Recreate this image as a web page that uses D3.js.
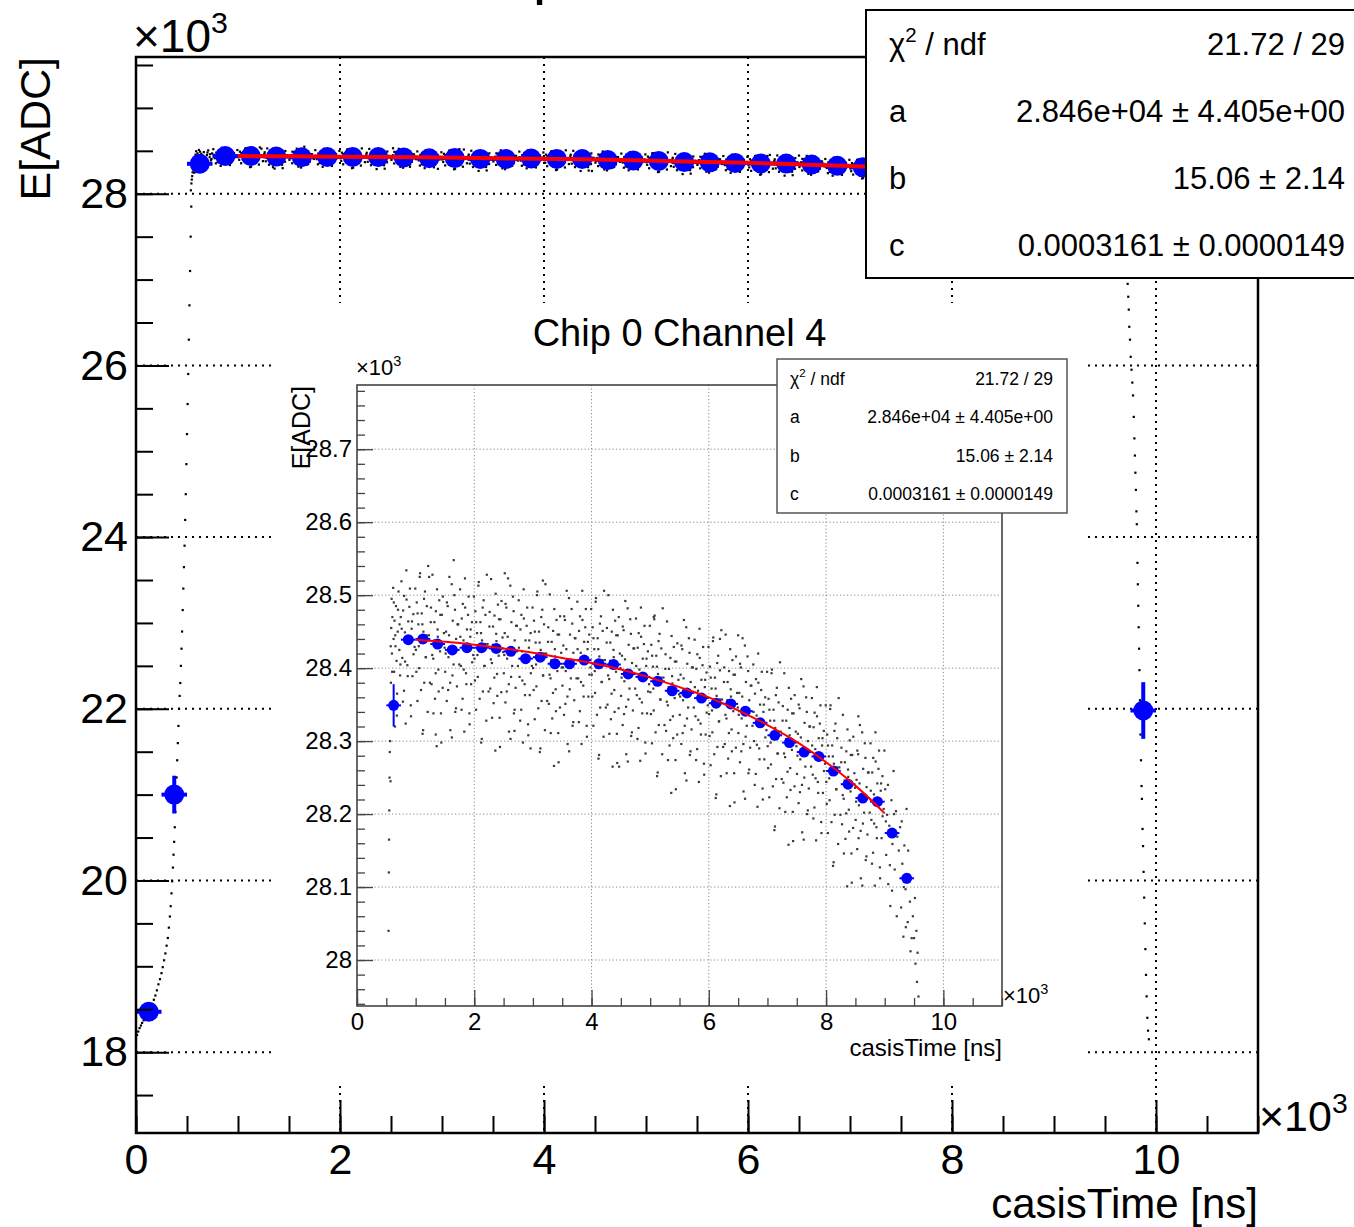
<!DOCTYPE html>
<html>
<head>
<meta charset="utf-8">
<script src="https://cdn.jsdelivr.net/npm/d3@7"></script>
<style>
  html, body { margin: 0; padding: 0; background: #fff; }
  svg { display: block; font-family: "Liberation Sans", Arial, Helvetica, sans-serif; }
</style>
</head>
<body>
<div id="chart"></div>
<script>
const width = 1354;
const height = 1227;

const title = "Chip 0 Channel 4";
const xTitle = "casisTime [ns]";
const yTitle = "E[ADC]";
const expLabel = "×10^3";

// axis ticks (ns / ADC)
const xDomain = [0, 11000];
const xMajor = [0, 2000, 4000, 6000, 8000, 10000];
const mainYMajor = [18000, 20000, 22000, 24000, 26000, 28000];
const insetYMajor = [28000, 28100, 28200, 28300, 28400, 28500, 28600, 28700];

// profile (blue): bin centre [ns], mean [ADC], error [ADC]
const binHalfWidth = 125;
const binCenters = [125, 375, 625, 875, 1125, 1375, 1625, 1875, 2125, 2375, 2625, 2875, 3125, 3375, 3625, 3875, 4125, 4375, 4625, 4875, 5125, 5375, 5625, 5875, 6125, 6375, 6625, 6875, 7125, 7375, 7625, 7875, 8125, 8375, 8625, 8875, 9125, 9375, 9875];
const binMeans = [18470, 21000, 28349, 28439, 28440, 28433, 28425, 28428, 28428, 28427, 28423, 28413, 28415, 28406, 28406, 28411, 28406, 28405, 28392, 28388, 28382, 28369, 28366, 28359, 28352, 28351, 28341, 28325, 28308, 28298, 28285, 28279, 28259, 28241, 28222, 28217, 28174, 28112, 21980];
const binErrors = [30, 220, 29, 6, 5, 5, 5, 5, 5, 5, 5, 5, 5, 5, 5, 5, 5, 5, 5, 5, 5, 5, 5, 5, 5, 5, 5, 5, 5, 6, 6, 6, 6, 6, 6, 6, 6, 7, 330];

// red fit line
const fitTime = [1000, 1500, 2000, 2500, 3000, 3500, 4000, 4500, 5000, 5500, 6000, 6500, 7000, 7500, 8000, 8500, 9000];
const fitE = [28439, 28436, 28432, 28427, 28421, 28414, 28407, 28398, 28387, 28374, 28360, 28342, 28322, 28299, 28271, 28239, 28201];

// stats box
const statLabels = ["χ^2 / ndf", "a", "b", "c"];
const statValues = ["21.72 / 29", "2.846e+04 ± 4.405e+00", "15.06 ± 2.14", "0.0003161 ± 0.0000149"];

// raw events [ns, ADC]
const riseDots = [
  [10,18200],[22,18240],[35,18280],[48,18310],[60,18340],[75,18370],[90,18400],[105,18430],[120,18460],[140,18500],
  [160,18560],[175,18610],[190,18660],[205,18720],[220,18790],[235,18850],[250,18920],[262,18990],[275,19070],[288,19150],
  [300,19240],[312,19330],[322,19450],[332,19580],[340,19700],[348,19850],[355,19990],[362,20150],[368,20300],[374,20450],
  [380,20620],[386,20800],[392,21000],[398,21200],[404,21400],[410,21600],[416,21800],[422,22000],[428,22150],[434,22300],
  [440,22500],[446,22700],[452,22900],[458,23150],[464,23400],[470,23650],[476,23900],[482,24200],[488,24500],[494,24850],
  [500,25200],[506,25550],[512,25900],[518,26300],[524,26700],[530,27100],[536,27500],[542,27850],
  [538,28040],[543,28120],[547,28165],[551,28205],[555,28250],[559,28285]
];

const bandDots = [
  [565,28300],[572,28245],[578,28380],[584,28455],[590,28495],[596,28420],[603,28470],[610,28350],[617,28510],[624,28440],[632,28395],
  [640,28465],[648,28320],[656,28430],[665,28485],[674,28410],[684,28365],[695,28450],[708,28505],[722,28425],[735,28390],[746,28470],
  [575,28430],[600,28395],[628,28490],[652,28445],[680,28335],[700,28480],[725,28460],[740,28405],
  [758,28519],[772,28414],[787,28479],[801,28369],[816,28449],[830,28324],[845,28494],[859,28404],[874,28464],[888,28434],[903,28509],[917,28349],[932,28454],[946,28389],[961,28474],[982,28429],
  [1004,28425],[1019,28490],[1031,28355],[1047,28460],[1060,28400],[1076,28530],[1089,28435],[1104,28475],[1118,28310],[1133,28450],[1147,28380],[1160,28505],[1176,28415],[1190,28485],[1205,28340],[1226,28445],
  [1258,28463],[1272,28378],[1287,28528],[1301,28413],[1316,28438],[1330,28358],[1345,28478],[1359,28293],[1374,28453],[1388,28398],[1403,28493],[1417,28423],[1432,28338],[1446,28473],[1461,28373],[1482,28448],
  [1504,28395],[1519,28450],[1531,28355],[1547,28485],[1560,28415],[1576,28525],[1589,28380],[1604,28430],[1618,28305],[1633,28465],[1647,28405],[1660,28500],[1676,28340],[1690,28440],[1705,28375],[1726,28460],
  [1758,28508],[1772,28403],[1787,28468],[1801,28358],[1816,28438],[1830,28313],[1845,28483],[1859,28393],[1874,28453],[1888,28423],[1903,28498],[1917,28338],[1932,28443],[1946,28378],[1961,28463],[1982,28418],
  [2004,28413],[2019,28478],[2031,28343],[2047,28448],[2060,28388],[2076,28518],[2089,28423],[2104,28463],[2118,28298],[2133,28438],[2147,28368],[2160,28493],[2176,28403],[2190,28473],[2205,28328],[2226,28433],
  [2258,28457],[2272,28372],[2287,28522],[2301,28407],[2316,28432],[2330,28352],[2345,28472],[2359,28287],[2374,28447],[2388,28392],[2403,28487],[2417,28417],[2432,28332],[2446,28467],[2461,28367],[2482,28442],
  [2504,28393],[2519,28448],[2531,28353],[2547,28483],[2560,28413],[2576,28523],[2589,28378],[2604,28428],[2618,28303],[2633,28463],[2647,28403],[2660,28498],[2676,28338],[2690,28438],[2705,28373],[2726,28458],
  [2758,28493],[2772,28388],[2787,28453],[2801,28343],[2816,28423],[2830,28298],[2845,28468],[2859,28378],[2874,28438],[2888,28408],[2903,28483],[2917,28323],[2932,28428],[2946,28363],[2961,28448],[2982,28403],
  [3004,28400],[3019,28465],[3031,28330],[3047,28435],[3060,28375],[3076,28505],[3089,28410],[3104,28450],[3118,28285],[3133,28425],[3147,28355],[3160,28480],[3176,28390],[3190,28460],[3205,28315],[3226,28420],
  [3258,28436],[3272,28351],[3287,28501],[3301,28386],[3316,28411],[3330,28331],[3345,28451],[3359,28266],[3374,28426],[3388,28371],[3403,28466],[3417,28396],[3432,28311],[3446,28446],[3461,28346],[3482,28421],
  [3504,28376],[3519,28431],[3531,28336],[3547,28466],[3560,28396],[3576,28506],[3589,28361],[3604,28411],[3618,28286],[3633,28446],[3647,28386],[3660,28481],[3676,28321],[3690,28421],[3705,28356],[3726,28441],
  [3758,28491],[3772,28386],[3787,28451],[3801,28341],[3816,28421],[3830,28296],[3845,28466],[3859,28376],[3874,28436],[3888,28406],[3903,28481],[3917,28321],[3932,28426],[3946,28361],[3961,28446],[3982,28401],
  [4004,28391],[4019,28456],[4031,28321],[4047,28426],[4060,28366],[4076,28496],[4089,28401],[4104,28441],[4118,28276],[4133,28416],[4147,28346],[4160,28471],[4176,28381],[4190,28451],[4205,28306],[4226,28411],
  [4258,28435],[4272,28350],[4287,28500],[4301,28385],[4316,28410],[4330,28330],[4345,28450],[4359,28265],[4374,28425],[4388,28370],[4403,28465],[4417,28395],[4432,28310],[4446,28445],[4461,28345],[4482,28420],
  [4504,28362],[4519,28417],[4531,28322],[4547,28452],[4560,28382],[4576,28492],[4589,28347],[4604,28397],[4618,28272],[4633,28432],[4647,28372],[4660,28467],[4676,28307],[4690,28407],[4705,28342],[4726,28427],
  [4758,28468],[4772,28363],[4787,28428],[4801,28318],[4816,28398],[4830,28273],[4845,28443],[4859,28353],[4874,28413],[4888,28383],[4903,28458],[4917,28298],[4932,28403],[4946,28338],[4961,28423],[4982,28378],
  [5004,28367],[5019,28432],[5031,28297],[5047,28402],[5060,28342],[5076,28472],[5089,28377],[5104,28417],[5118,28252],[5133,28392],[5147,28322],[5160,28447],[5176,28357],[5190,28427],[5205,28282],[5226,28387],
  [5258,28399],[5272,28314],[5287,28464],[5301,28349],[5316,28374],[5330,28294],[5345,28414],[5359,28229],[5374,28389],[5388,28334],[5403,28429],[5417,28359],[5432,28274],[5446,28409],[5461,28309],[5482,28384],
  [5504,28336],[5519,28391],[5531,28296],[5547,28426],[5560,28356],[5576,28466],[5589,28321],[5604,28371],[5618,28246],[5633,28406],[5647,28346],[5660,28441],[5676,28281],[5690,28381],[5705,28316],[5726,28401],
  [5758,28439],[5772,28334],[5787,28399],[5801,28289],[5816,28369],[5830,28244],[5845,28414],[5859,28324],[5874,28384],[5888,28354],[5903,28429],[5917,28269],[5932,28374],[5946,28309],[5961,28394],[5982,28349],
  [6004,28337],[6019,28402],[6031,28267],[6047,28372],[6060,28312],[6076,28442],[6089,28347],[6104,28387],[6118,28222],[6133,28362],[6147,28292],[6160,28417],[6176,28327],[6190,28397],[6205,28252],[6226,28357],
  [6258,28381],[6272,28296],[6287,28446],[6301,28331],[6316,28356],[6330,28276],[6345,28396],[6359,28211],[6374,28371],[6388,28316],[6403,28411],[6417,28341],[6432,28256],[6446,28391],[6461,28291],[6482,28366],
  [6504,28311],[6519,28366],[6531,28271],[6547,28401],[6560,28331],[6576,28441],[6589,28296],[6604,28346],[6618,28221],[6633,28381],[6647,28321],[6660,28416],[6676,28256],[6690,28356],[6705,28291],[6726,28376],
  [6758,28405],[6772,28300],[6787,28365],[6801,28255],[6816,28335],[6830,28210],[6845,28380],[6859,28290],[6874,28350],[6888,28320],[6903,28395],[6917,28235],[6932,28340],[6946,28275],[6961,28360],[6982,28315],
  [7004,28293],[7019,28358],[7031,28223],[7047,28328],[7060,28268],[7076,28398],[7089,28303],[7104,28343],[7118,28178],[7133,28318],[7147,28248],[7160,28373],[7176,28283],[7190,28353],[7205,28208],[7226,28313],
  [7258,28328],[7272,28243],[7287,28393],[7301,28278],[7316,28303],[7330,28223],[7345,28343],[7359,28158],[7374,28318],[7388,28263],[7403,28358],[7417,28288],[7432,28203],[7446,28338],[7461,28238],[7482,28313],
  [7504,28255],[7519,28310],[7531,28215],[7547,28345],[7560,28275],[7576,28385],[7589,28240],[7604,28290],[7618,28165],[7633,28325],[7647,28265],[7660,28360],[7676,28200],[7690,28300],[7705,28235],[7726,28320],
  [7758,28359],[7772,28254],[7787,28319],[7801,28209],[7816,28289],[7830,28164],[7845,28334],[7859,28244],[7874,28304],[7888,28274],[7903,28349],[7917,28189],[7932,28294],[7946,28229],[7961,28314],[7982,28269],
  [8004,28244],[8019,28309],[8031,28174],[8047,28279],[8060,28219],[8076,28349],[8089,28254],[8104,28294],[8118,28129],[8133,28269],[8147,28199],[8160,28324],[8176,28234],[8190,28304],[8205,28159],[8226,28264],
  [8258,28271],[8272,28186],[8287,28336],[8301,28221],[8316,28246],[8330,28166],[8345,28286],[8359,28101],[8374,28261],[8388,28206],[8403,28301],[8417,28231],[8432,28146],[8446,28281],[8461,28181],[8482,28256],
  [8504,28192],[8519,28247],[8531,28152],[8547,28282],[8560,28212],[8576,28322],[8589,28177],[8604,28227],[8618,28102],[8633,28262],[8647,28202],[8660,28297],[8676,28137],[8690,28237],[8705,28172],[8726,28257],
  [8758,28297],[8772,28192],[8787,28257],[8801,28147],[8816,28227],[8830,28102],[8845,28272],[8859,28182],[8874,28242],[8888,28212],[8903,28287],[8917,28127],[8932,28232],[8946,28167],[8961,28252],[8982,28207],
  [9008,28234],[9025,28144],[9041,28199],[9060,28104],[9078,28184],[9095,28074],[9115,28219],[9132,28159],[9150,28259],[9170,28124],[9192,28204],[9215,28169],
  [9262,28182],[9280,28072],[9300,28132],[9318,28032],[9335,28157],[9355,28097],[9372,28207],[9392,28052],[9415,28117],[9440,28012],
  [9020,28190],[9055,28240],[9088,28130],[9125,28095],[9160,28200],[9205,28060],[9240,28150],[9290,28190],[9325,28100],[9360,28045],[9400,28150],[9430,28080],[9460,28030],
  [1230,28525],[1650,28548],[2520,28530],[3170,28520],[5060,28470],[6190,28440],[6500,28445],[2960,28290],[4470,28265],[8550,28334],[1343,28309],[2686,28314]
];

// second pass over the cloud (denser core)
const coreDots = [
  [762,28454],[783,28354],[804,28499],[820,28409],[842,28534],[865,28389],[878,28434],[893,28484],[921,28334],[938,28464],[964,28419],[994,28509],
  [1012,28395],[1033,28475],[1054,28430],[1070,28525],[1092,28370],[1115,28460],[1128,28315],[1143,28495],[1171,28415],[1188,28445],[1214,28540],[1244,28380],
  [1262,28483],[1283,28418],[1304,28338],[1320,28463],[1342,28393],[1365,28508],[1378,28443],[1393,28368],[1421,28473],[1438,28298],[1464,28498],[1494,28428],
  [1512,28420],[1533,28490],[1554,28370],[1570,28445],[1592,28315],[1615,28515],[1628,28390],[1643,28430],[1671,28480],[1688,28345],[1714,28460],[1744,28405],
  [1762,28443],[1783,28343],[1804,28488],[1820,28398],[1842,28523],[1865,28378],[1878,28423],[1893,28473],[1921,28323],[1938,28453],[1964,28408],[1994,28498],
  [2012,28383],[2033,28463],[2054,28418],[2070,28513],[2092,28358],[2115,28448],[2128,28303],[2143,28483],[2171,28403],[2188,28433],[2214,28528],[2244,28368],
  [2262,28477],[2283,28412],[2304,28332],[2320,28457],[2342,28387],[2365,28502],[2378,28437],[2393,28362],[2421,28467],[2438,28292],[2464,28492],[2494,28422],
  [2512,28418],[2533,28488],[2554,28368],[2570,28443],[2592,28313],[2615,28513],[2628,28388],[2643,28428],[2671,28478],[2688,28343],[2714,28458],[2744,28403],
  [2762,28428],[2783,28328],[2804,28473],[2820,28383],[2842,28508],[2865,28363],[2878,28408],[2893,28458],[2921,28308],[2938,28438],[2964,28393],[2994,28483],
  [3012,28370],[3033,28450],[3054,28405],[3070,28500],[3092,28345],[3115,28435],[3128,28290],[3143,28470],[3171,28390],[3188,28420],[3214,28515],[3244,28355],
  [3262,28456],[3283,28391],[3304,28311],[3320,28436],[3342,28366],[3365,28481],[3378,28416],[3393,28341],[3421,28446],[3438,28271],[3464,28471],[3494,28401],
  [3512,28401],[3533,28471],[3554,28351],[3570,28426],[3592,28296],[3615,28496],[3628,28371],[3643,28411],[3671,28461],[3688,28326],[3714,28441],[3744,28386],
  [3762,28426],[3783,28326],[3804,28471],[3820,28381],[3842,28506],[3865,28361],[3878,28406],[3893,28456],[3921,28306],[3938,28436],[3964,28391],[3994,28481],
  [4012,28361],[4033,28441],[4054,28396],[4070,28491],[4092,28336],[4115,28426],[4128,28281],[4143,28461],[4171,28381],[4188,28411],[4214,28506],[4244,28346],
  [4262,28455],[4283,28390],[4304,28310],[4320,28435],[4342,28365],[4365,28480],[4378,28415],[4393,28340],[4421,28445],[4438,28270],[4464,28470],[4494,28400],
  [4512,28387],[4533,28457],[4554,28337],[4570,28412],[4592,28282],[4615,28482],[4628,28357],[4643,28397],[4671,28447],[4688,28312],[4714,28427],[4744,28372],
  [4762,28403],[4783,28303],[4804,28448],[4820,28358],[4842,28483],[4865,28338],[4878,28383],[4893,28433],[4921,28283],[4938,28413],[4964,28368],[4994,28458],
  [5012,28337],[5033,28417],[5054,28372],[5070,28467],[5092,28312],[5115,28402],[5128,28257],[5143,28437],[5171,28357],[5188,28387],[5214,28482],[5244,28322],
  [5262,28419],[5283,28354],[5304,28274],[5320,28399],[5342,28329],[5365,28444],[5378,28379],[5393,28304],[5421,28409],[5438,28234],[5464,28434],[5494,28364],
  [5512,28361],[5533,28431],[5554,28311],[5570,28386],[5592,28256],[5615,28456],[5628,28331],[5643,28371],[5671,28421],[5688,28286],[5714,28401],[5744,28346],
  [5762,28374],[5783,28274],[5804,28419],[5820,28329],[5842,28454],[5865,28309],[5878,28354],[5893,28404],[5921,28254],[5938,28384],[5964,28339],[5994,28429],
  [6012,28307],[6033,28387],[6054,28342],[6070,28437],[6092,28282],[6115,28372],[6128,28227],[6143,28407],[6171,28327],[6188,28357],[6214,28452],[6244,28292],
  [6262,28401],[6283,28336],[6304,28256],[6320,28381],[6342,28311],[6365,28426],[6378,28361],[6393,28286],[6421,28391],[6438,28216],[6464,28416],[6494,28346],
  [6512,28336],[6533,28406],[6554,28286],[6570,28361],[6592,28231],[6615,28431],[6628,28306],[6643,28346],[6671,28396],[6688,28261],[6714,28376],[6744,28321],
  [6762,28340],[6783,28240],[6804,28385],[6820,28295],[6842,28420],[6865,28275],[6878,28320],[6893,28370],[6921,28220],[6938,28350],[6964,28305],[6994,28395],
  [7012,28263],[7033,28343],[7054,28298],[7070,28393],[7092,28238],[7115,28328],[7128,28183],[7143,28363],[7171,28283],[7188,28313],[7214,28408],[7244,28248],
  [7262,28348],[7283,28283],[7304,28203],[7320,28328],[7342,28258],[7365,28373],[7378,28308],[7393,28233],[7421,28338],[7438,28163],[7464,28363],[7494,28293],
  [7512,28280],[7533,28350],[7554,28230],[7570,28305],[7592,28175],[7615,28375],[7628,28250],[7643,28290],[7671,28340],[7688,28205],[7714,28320],[7744,28265],
  [7762,28294],[7783,28194],[7804,28339],[7820,28249],[7842,28374],[7865,28229],[7878,28274],[7893,28324],[7921,28174],[7938,28304],[7964,28259],[7994,28349],
  [8012,28214],[8033,28294],[8054,28249],[8070,28344],[8092,28189],[8115,28279],[8128,28134],[8143,28314],[8171,28234],[8188,28264],[8214,28359],[8244,28199],
  [8262,28291],[8283,28226],[8304,28146],[8320,28271],[8342,28201],[8365,28316],[8378,28251],[8393,28176],[8421,28281],[8438,28106],[8464,28306],[8494,28236],
  [8512,28217],[8533,28287],[8554,28167],[8570,28242],[8592,28112],[8615,28312],[8628,28187],[8643,28227],[8671,28277],[8688,28142],[8714,28257],[8744,28202],
  [8762,28232],[8783,28132],[8804,28277],[8820,28187],[8842,28312],[8865,28167],[8878,28212],[8893,28262],[8921,28112],[8938,28242],[8964,28197],[8994,28287]
];

const tailDots = [
  [9480,28060],[9500,28030],[9515,28085],[9525,27995],[9540,28040],[9550,27970],[9560,28010],[9575,27950],[9590,27920],[9610,27880],[9630,27800],[9650,27700],
  [9700,27400],[9712,27150],[9722,26950],[9728,26800],[9733,26650],[9738,26450],[9745,26300],[9752,26100],[9760,25950],[9768,25800],
  [9775,25650],[9782,25400],[9788,25150],[9793,24950],[9798,24750],[9803,24550],[9808,24300],[9812,24150],[9818,23700],[9822,23450],
  [9826,23200],[9830,22950],[9834,22700],[9838,22450],[9843,22100],[9848,21700],[9853,21400],[9858,21100],[9862,20950],[9868,20600],
  [9873,20400],[9878,20100],[9884,19800],[9890,19500],[9896,19200],[9902,18900],[9908,18650],[9915,18400],[9922,18250],[9930,18150]
];

const scatter = riseDots.concat(bandDots, coreDots, tailDots);
const profile = d3.zip(binCenters, binMeans, binErrors);
const fitPoints = d3.zip(fitTime, fitE);

const mainPanel = {
  name: "main",
  left: 136, right: 1258, top: 57, bottom: 1133,
  yDomain: [17058, 29593],
  yMajor: mainYMajor,
  yMinor: d3.range(17500, 29501, 500),
  xMinor: d3.range(0, 11001, 500),
  yFormat: (d) => d / 1000,
  majorLen: 33, minorLen: 17, tickWidth: 2,
  tickFont: 43, xPad: 10, yPad: 8,
  frameColor: "#000", frameWidth: 2.5,
  gridColor: "#000", gridWidth: 2, gridDash: "2,5",
  dotSize: 2.2, dotColor: "#000",
  markerR: 10, errWidth: 4, fitWidth: 4,
};

const insetPanel = {
  name: "inset",
  left: 357, right: 1002, top: 385, bottom: 1006,
  yDomain: [27937, 28788],
  yMajor: insetYMajor,
  yMinor: d3.range(27940, 28781, 20),
  xMinor: d3.range(0, 11001, 500),
  yFormat: (d) => +(d / 1000).toFixed(1),
  majorLen: 16, minorLen: 8, tickWidth: 1.3,
  tickFont: 24, xPad: 7, yPad: 5,
  frameColor: "#444", frameWidth: 1.6,
  gridColor: "#888", gridWidth: 1, gridDash: "1.2,2.3",
  dotSize: 2.2, dotColor: "#3a3a3a",
  markerR: 5.5, errWidth: 2, fitWidth: 2,
};

const svg = d3
  .select("#chart")
  .append("svg")
  .attr("width", width)
  .attr("height", height);

svg.append("rect").attr("width", width).attr("height", height).attr("fill", "#fff");

// text with "^x" superscripts
const richText = (text, str, size) => {
  str.split("^").forEach((part, i) => {
    if (i === 0) {
      text.append("tspan").text(part);
      return;
    }
    text
      .append("tspan")
      .attr("font-size", size * 0.66)
      .attr("dy", -size * 0.42)
      .text(part[0]);
    if (part.length > 1) {
      text.append("tspan").attr("font-size", size).attr("dy", size * 0.42).text(part.slice(1));
    }
  });
  return text;
};

const drawPanel = (p) => {
  const x = d3.scaleLinear().domain(xDomain).range([p.left, p.right]);
  const y = d3.scaleLinear().domain(p.yDomain).range([p.bottom, p.top]);
  const g = svg.append("g").attr("class", p.name);

  g.append("clipPath")
    .attr("id", `clip-${p.name}`)
    .append("rect")
    .attr("x", p.left)
    .attr("y", p.top)
    .attr("width", p.right - p.left)
    .attr("height", p.bottom - p.top);

  // grid
  const grid = g
    .append("g")
    .attr("stroke", p.gridColor)
    .attr("stroke-width", p.gridWidth)
    .attr("stroke-dasharray", p.gridDash);
  grid
    .selectAll(".gx")
    .data(xMajor.filter((v) => v > xDomain[0]))
    .join("line")
    .attr("class", "gx")
    .attr("x1", x)
    .attr("x2", x)
    .attr("y1", p.top)
    .attr("y2", p.bottom);
  grid
    .selectAll(".gy")
    .data(p.yMajor)
    .join("line")
    .attr("class", "gy")
    .attr("x1", p.left)
    .attr("x2", p.right)
    .attr("y1", y)
    .attr("y2", y);

  const plot = g.append("g").attr("clip-path", `url(#clip-${p.name})`);

  plot
    .append("g")
    .attr("fill", p.dotColor)
    .selectAll("rect")
    .data(scatter)
    .join("rect")
    .attr("x", (d) => x(d[0]) - p.dotSize / 2)
    .attr("y", (d) => y(d[1]) - p.dotSize / 2)
    .attr("width", p.dotSize)
    .attr("height", p.dotSize);

  // profile with error bars
  const bars = plot.append("g").attr("stroke", "#0000ff").attr("stroke-width", p.errWidth);
  bars
    .selectAll(".ev")
    .data(profile)
    .join("line")
    .attr("class", "ev")
    .attr("x1", (d) => x(d[0]))
    .attr("x2", (d) => x(d[0]))
    .attr("y1", (d) => y(d[1] - d[2]))
    .attr("y2", (d) => y(d[1] + d[2]));
  bars
    .selectAll(".eh")
    .data(profile)
    .join("line")
    .attr("class", "eh")
    .attr("x1", (d) => x(d[0] - binHalfWidth))
    .attr("x2", (d) => x(d[0] + binHalfWidth))
    .attr("y1", (d) => y(d[1]))
    .attr("y2", (d) => y(d[1]));
  plot
    .append("g")
    .attr("fill", "#0000ff")
    .selectAll("circle")
    .data(profile)
    .join("circle")
    .attr("cx", (d) => x(d[0]))
    .attr("cy", (d) => y(d[1]))
    .attr("r", p.markerR);

  plot
    .append("path")
    .datum(fitPoints)
    .attr("fill", "none")
    .attr("stroke", "#ff0000")
    .attr("stroke-width", p.fitWidth)
    .attr(
      "d",
      d3
        .line()
        .x((d) => x(d[0]))
        .y((d) => y(d[1]))
        .curve(d3.curveMonotoneX)
    );

  // axes, ticks pointing into the frame
  const styleAxis = (sel) => {
    sel.select(".domain").remove();
    sel.attr("font-size", p.tickFont).attr("font-family", null);
    sel.selectAll("line").attr("stroke", p.frameColor).attr("stroke-width", p.tickWidth);
    sel.selectAll("text").attr("fill", "#000");
  };
  const bottom = `translate(0,${p.bottom})`;
  const left = `translate(${p.left},0)`;

  g.append("g")
    .attr("transform", bottom)
    .call(d3.axisBottom(x).tickValues(p.xMinor).tickSize(-p.minorLen).tickFormat(""))
    .call(styleAxis);
  g.append("g")
    .attr("transform", bottom)
    .call(
      d3
        .axisBottom(x)
        .tickValues(xMajor)
        .tickSize(-p.majorLen)
        .tickPadding(p.xPad)
        .tickFormat((d) => d / 1000)
    )
    .call(styleAxis);
  g.append("g")
    .attr("transform", left)
    .call(d3.axisLeft(y).tickValues(p.yMinor).tickSize(-p.minorLen).tickFormat(""))
    .call(styleAxis);
  g.append("g")
    .attr("transform", left)
    .call(d3.axisLeft(y).tickValues(p.yMajor).tickSize(-p.majorLen).tickPadding(p.yPad).tickFormat(p.yFormat))
    .call(styleAxis);

  g.append("rect")
    .attr("x", p.left)
    .attr("y", p.top)
    .attr("width", p.right - p.left)
    .attr("height", p.bottom - p.top)
    .attr("fill", "none")
    .attr("stroke", p.frameColor)
    .attr("stroke-width", p.frameWidth);

  return g;
};

const drawStats = (s) => {
  const g = svg.append("g").attr("class", "stats");
  g.append("rect")
    .attr("x", s.left)
    .attr("y", s.top)
    .attr("width", s.width)
    .attr("height", s.height)
    .attr("fill", "#fff")
    .attr("stroke", s.stroke)
    .attr("stroke-width", s.strokeWidth);
  const rowH = s.height / statLabels.length;
  const rows = g
    .selectAll(".row")
    .data(d3.zip(statLabels, statValues))
    .join("g")
    .attr("class", "row")
    .attr("transform", (d, i) => `translate(0,${s.top + (i + 0.5) * rowH})`);
  rows.append("text")
    .attr("x", s.labelX)
    .attr("y", s.fontSize * 0.36)
    .attr("font-size", s.fontSize)
    .attr("fill", "#000")
    .each(function (d) {
      richText(d3.select(this), d[0], s.fontSize);
    });
  rows.append("text")
    .attr("x", s.valueX)
    .attr("y", s.fontSize * 0.36)
    .attr("font-size", s.fontSize)
    .attr("text-anchor", "end")
    .attr("fill", "#000")
    .text((d) => d[1]);
};

// ---- main pad
const mainG = drawPanel(mainPanel);

// title sits above the canvas, only its descender shows
mainG.append("text")
  .attr("x", 677)
  .attr("y", -8)
  .attr("text-anchor", "middle")
  .attr("font-size", 61)
  .text(title);
richText(mainG.append("text").attr("x", 133).attr("y", 52).attr("font-size", 46), expLabel, 46);
richText(mainG.append("text").attr("x", 1259).attr("y", 1131).attr("font-size", 43), expLabel, 43);
mainG.append("text")
  .attr("x", mainPanel.right)
  .attr("y", 1218)
  .attr("text-anchor", "end")
  .attr("font-size", 42)
  .text(xTitle);
mainG.append("text")
  .attr("transform", `translate(50,${mainPanel.top}) rotate(-90)`)
  .attr("text-anchor", "end")
  .attr("font-size", 43)
  .text(yTitle);

// ---- inset pad
svg.append("rect")
  .attr("x", 275)
  .attr("y", 303)
  .attr("width", 810)
  .attr("height", 780)
  .attr("fill", "#fff");

const insetG = drawPanel(insetPanel);

insetG.append("text")
  .attr("x", (insetPanel.left + insetPanel.right) / 2)
  .attr("y", 346)
  .attr("text-anchor", "middle")
  .attr("font-size", 38)
  .text(title);
richText(insetG.append("text").attr("x", 356).attr("y", 375).attr("font-size", 22), expLabel, 22);
richText(insetG.append("text").attr("x", 1003).attr("y", 1003).attr("font-size", 22), expLabel, 22);
insetG.append("text")
  .attr("x", insetPanel.right)
  .attr("y", 1056)
  .attr("text-anchor", "end")
  .attr("font-size", 24)
  .text(xTitle);
insetG.append("text")
  .attr("transform", `translate(310,${insetPanel.top + 1}) rotate(-90)`)
  .attr("text-anchor", "end")
  .attr("font-size", 25)
  .text(yTitle);

drawStats({ left: 777, top: 359, width: 290, height: 154, stroke: "#555", strokeWidth: 1.5, fontSize: 17.5, labelX: 790, valueX: 1053 });
drawStats({ left: 866, top: 10, width: 500, height: 268, stroke: "#000", strokeWidth: 2, fontSize: 31, labelX: 889, valueX: 1345 });
</script>
</body>
</html>
